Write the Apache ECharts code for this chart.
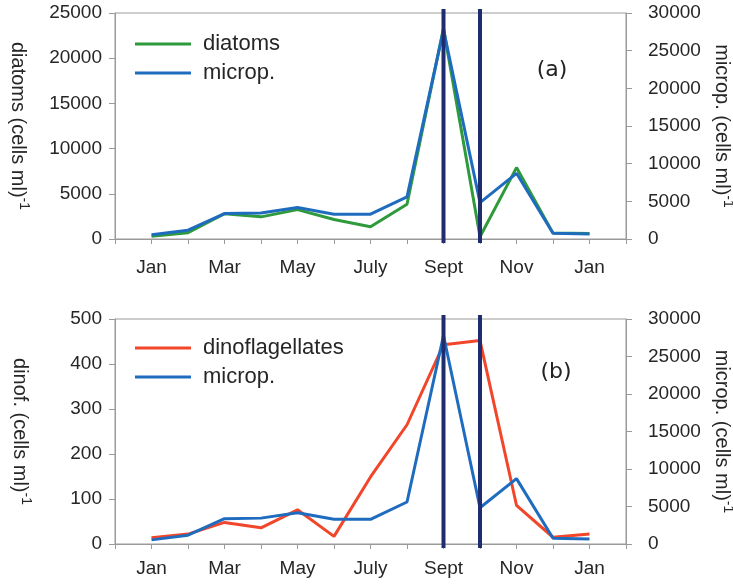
<!DOCTYPE html>
<html>
<head>
<meta charset="utf-8">
<script src="https://cdn.jsdelivr.net/npm/echarts@6/dist/echarts.min.js"></script>
<style>
  html, body { margin: 0; padding: 0; background: #fff; }
  #chart { width: 733px; height: 584px; }
</style>
</head>
<body>
<div id="chart"></div>
<script>
// Sampling months (Jan .. following Jan), placed at x = 1..13
const months = ['Jan', 'Feb', 'Mar', 'Apr', 'May', 'Jun', 'Jul', 'Aug', 'Sep', 'Oct', 'Nov', 'Dec', 'Jan'];
// Labels for the x ticks 0..14
const tickLabels = ['', 'Jan', '', 'Mar', '', 'May', '', 'July', '', 'Sept', '', 'Nov', '', 'Jan', ''];

// Abundances, cells per ml
const diatoms = [300, 700, 2800, 2450, 3250, 2150, 1350, 3850, 23300, 250, 7900, 650, 600];
const microp = [550, 1170, 3380, 3450, 4170, 3290, 3290, 5600, 27800, 4830, 8720, 770, 680];
const dinoflagellates = [14, 22, 48, 36, 76, 17, 149, 265, 443, 452, 86, 15, 22];

// Months marked with a vertical bar (x positions: Sept, Oct)
const markedMonths = [9, 10];

const FONT = 'Liberation Sans, Arial, sans-serif';
const AXIS_GREY = '#9a9a9a';
const TEXT = '#262626';

const pairs = arr => arr.map((v, i) => [i + 1, v]);

function xAxisFor(gridIndex, labelMargin) {
  return {
    type: 'value', gridIndex, min: 0, max: 14, interval: 1,
    axisLine: { show: true, lineStyle: { color: AXIS_GREY, width: 1 } },
    axisTick: { show: true, inside: false, length: 5, lineStyle: { color: AXIS_GREY } },
    splitLine: { show: false },
    axisLabel: {
      margin: labelMargin, fontFamily: FONT, fontSize: 19, color: TEXT,
      formatter: v => tickLabels[Math.round(v)] || ''
    }
  };
}

function yAxisFor(gridIndex, position, max, interval, name, labelMargin, nameGap) {
  return {
    type: 'value', gridIndex, position, min: 0, max, interval,
    axisLine: { show: true, lineStyle: { color: AXIS_GREY, width: 1 } },
    axisTick: { show: true, inside: false, length: 6, lineStyle: { color: AXIS_GREY } },
    splitLine: { show: false },
    axisLabel: {
      margin: labelMargin, fontFamily: FONT, fontSize: 19, color: TEXT,
      formatter: v => String(v)
    },
    name: '{a|' + name + ' (cells ml)}{s|-1}',
    nameLocation: 'middle',
    nameRotate: -90,
    nameGap,
    nameTextStyle: {
      rich: {
        a: { fontFamily: FONT, fontSize: 20, color: TEXT, lineHeight: 26 },
        s: { fontFamily: FONT, fontSize: 14, color: TEXT, lineHeight: 26, verticalAlign: 'top' }
      }
    }
  };
}

function markBars(xAxisIndex, yAxisIndex, yMax) {
  return {
    type: 'custom', xAxisIndex, yAxisIndex, z: 10, silent: true,
    data: markedMonths.map(m => [m, 0]),
    encode: { x: 0, y: 1 },
    renderItem: (params, api) => {
      const x = api.value(0);
      const top = api.coord([x, yMax]);
      const bot = api.coord([x, 0]);
      return {
        type: 'line',
        shape: { x1: top[0], y1: top[1] - 4, x2: bot[0], y2: bot[1] + 4 },
        style: { stroke: '#1f2c70', lineWidth: 4 }
      };
    }
  };
}

function lineSeries(name, data, xAxisIndex, yAxisIndex, color, z) {
  return {
    name, type: 'line', xAxisIndex, yAxisIndex, z,
    data: pairs(data), symbol: 'none', smooth: false,
    lineStyle: { color, width: 3 }, itemStyle: { color },
    emphasis: { disabled: true }
  };
}

function legendFor(names, top) {
  return {
    data: names, orient: 'vertical', left: 130, top,
    icon: 'rect', itemWidth: 56, itemHeight: 3, itemGap: 5,
    selectedMode: false,
    textStyle: { fontFamily: FONT, fontSize: 22, color: TEXT, lineHeight: 24, padding: [0, 0, 0, 7] }
  };
}

const GREEN = '#2f9a3c';
const BLUE = '#1f6cbf';
const RED = '#f2462a';

const gridBase = {
  left: 115, right: 107, show: true, borderColor: AXIS_GREY, borderWidth: 1,
  containLabel: false, outerBoundsMode: 'none'
};

const option = {
  animation: false,
  backgroundColor: '#fff',
  grid: [
    Object.assign({ top: 13, height: 226 }, gridBase),
    Object.assign({ top: 319, height: 225 }, gridBase)
  ],
  xAxis: [xAxisFor(0, 19), xAxisFor(1, 15)],
  yAxis: [
    yAxisFor(0, 'left', 25000, 5000, 'diatoms', 13, 84),
    yAxisFor(0, 'right', 30000, 5000, 'microp.', 22, 81),
    yAxisFor(1, 'left', 500, 100, 'dinof.', 13, 82),
    yAxisFor(1, 'right', 30000, 5000, 'microp.', 22, 81)
  ],
  legend: [legendFor(['diatoms', 'microp.'], 27), legendFor(['dinoflagellates', 'microp.'], 331)],
  graphic: [
    { type: 'text', x: 552, y: 70, style: { text: '(a)', fontFamily: 'DejaVu Sans', fontSize: 22, fill: '#222', align: 'center', verticalAlign: 'middle' } },
    { type: 'text', x: 556, y: 372, style: { text: '(b)', fontFamily: 'DejaVu Sans', fontSize: 22, fill: '#222', align: 'center', verticalAlign: 'middle' } }
  ],
  series: [
    lineSeries('diatoms', diatoms, 0, 0, GREEN, 3),
    lineSeries('microp.', microp, 0, 1, BLUE, 4),
    lineSeries('dinoflagellates', dinoflagellates, 1, 2, RED, 3),
    lineSeries('microp.', microp, 1, 3, BLUE, 4),
    markBars(0, 0, 25000),
    markBars(1, 2, 500)
  ]
};

const chart = echarts.init(document.getElementById('chart'), null, { renderer: 'canvas' });
chart.setOption(option);
</script>
</body>
</html>
